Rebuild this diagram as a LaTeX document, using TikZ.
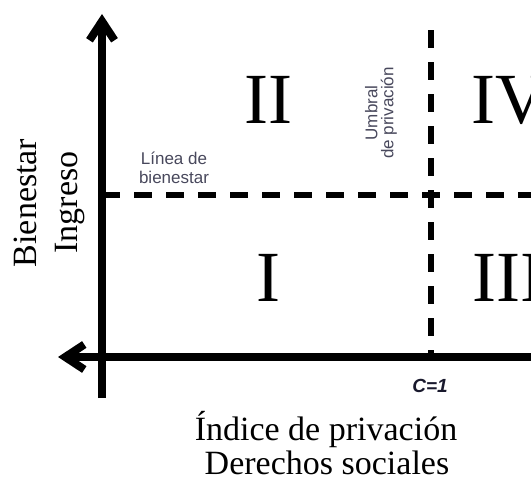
\documentclass[tikz,border=0pt]{standalone}
\usepackage{fontspec}
\setmainfont{Liberation Serif}
\newfontfamily\arialfont{Liberation Sans}
\usepackage{tikz}
\usetikzlibrary{arrows.meta}
\definecolor{note-gray}{RGB}{72,72,92}
\definecolor{navy}{RGB}{25,25,45}

\begin{document}
\begin{tikzpicture}[x=1pt, y=-1pt, >={Straight Barb[length=19pt,width=25pt]},
  axis/.style={line width=8pt, ->},
  threshold/.style={line width=5.5pt, dash pattern=on 18pt off 14pt},
  quadrant/.style={font=\fontsize{72}{72}\selectfont, inner sep=0pt, anchor=base},
  axislabel/.style={font=\fontsize{34}{34}\selectfont, inner sep=0pt, anchor=base},
  note/.style={font=\arialfont\fontsize{17}{#1}\selectfont, text=note-gray, align=center, inner sep=0pt},
  note/.default=19pt]

\useasboundingbox (0,0) rectangle (531,479);

\coordinate (origin) at (102,357);
\coordinate (ytop) at (102,14);
\coordinate (ybot) at (102,398);
\coordinate (xleft) at (58,357);
\coordinate (xright) at (545,357);

\coordinate (wl-start) at (102,195);
\coordinate (wl-end) at (545,195);
\coordinate (dt-top) at (431,30);
\coordinate (dt-bot) at (431,357);

% axes
\draw [axis] (ybot) -- (ytop);
\draw [axis] (xright) -- (xleft);

% bienestar line and deprivation threshold
\draw [threshold] (wl-start) -- (wl-end);
\draw [threshold] (dt-top) -- (dt-bot);

\node [quadrant] (q2) at (268.5,123) {II};
\node [quadrant] (q1) at (268,301) {I};
\node [quadrant, anchor=base west] (q4) at (471,123) {IV};
\node [quadrant, anchor=base west] (q3) at (472,301) {III};

\node [note] (linea) at (174,167.5) {Línea de\\bienestar};
\node [note=16pt, rotate=90] (umbral) at (381,113) {Umbral\\de privación};

\node [font=\arialfont\bfseries\itshape\fontsize{19}{19}\selectfont, text=navy, inner sep=0pt, anchor=base] (c1) at (430,392) {C=1};

\node [axislabel] (idx) at (326,440) {Índice de privación};
\node [axislabel] (ds) at (327,474) {Derechos sociales};

\node [axislabel, rotate=90] (bien) at (37,203) {Bienestar};
\node [axislabel, rotate=90] (ing) at (77,202.5) {Ingreso};

\end{tikzpicture}
\end{document}
